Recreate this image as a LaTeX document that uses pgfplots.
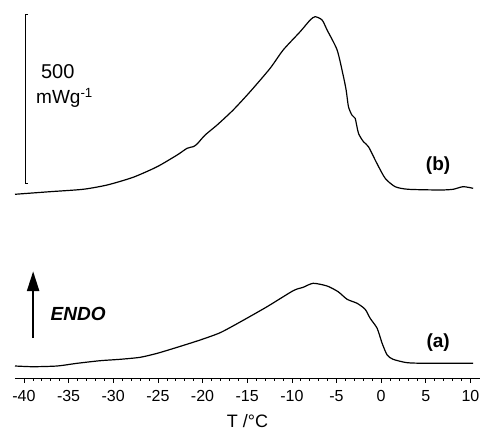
\documentclass[border=0pt]{standalone}
\usepackage{fontspec}
\setmainfont{Liberation Sans}
\usepackage{pgfplots}
\pgfplotsset{compat=1.18}
\usetikzlibrary{calc,arrows.meta}

% DSC heating curves, heat flow in mW/g (curves offset vertically)
\pgfplotstableread{
T      q
-41.00  35.5
-38.97  33.4
-36.28  35.5
-34.04  43.5
-31.46  51.2
-29.23  55.3
-26.99  61.2
-25.08  73.0
-22.84  90.8
-20.27 112.4
-18.03 134.0
-15.79 165.7
-12.77 211.0
-9.85  258.3
-8.73  268.4
-7.61  280.2
-6.05  272.2
-4.82  255.4
-3.81  232.9
-2.69  221.0
-1.79  203.3
-1.23  176.7
-0.45  147.1
0.11   102.7
0.67    68.1
1.34    55.3
2.91    45.3
5.15    43.5
10.30   43.5
}\curveA

\pgfplotstableread{
T      q
-41.00  543.6
-37.07  551.3
-33.37  558.4
-30.68  571.1
-27.77  593.9
-25.08  625.2
-22.84  659.9
-21.73  679.7
-21.05  684.4
-20.61  692.4
-19.71  719.0
-18.37  748.6
-16.57  793.0
-14.67  847.2
-12.43  916.4
-10.97  970.6
-9.07  1024.7
-7.95  1059.3
-7.39  1069.1
-6.61  1059.3
-6.05  1029.7
-4.93   970.6
-4.26   896.6
-3.92   852.2
-3.66   802.8
-3.28   778.2
-2.91   768.5
-2.54   724.1
-1.98   699.2
-1.42   684.4
-0.48   635.3
0.45    590.9
1.57    566.1
3.02    558.4
6.61    556.3
8.06    558.4
9.18    566.1
10.30   561.3
}\curveB

\begin{document}
\begin{tikzpicture}
\begin{axis}[
  scale only axis,
  width=465pt, height=378pt,
  xmin=-41, xmax=11.07,
  ymin=0, ymax=1118.5,
  axis x line*=bottom,
  axis y line=none,
  clip=false,
  xtick={-40,-35,...,10},
  minor x tick num=4,
  tick align=outside,
  major tick length=5pt,
  minor tick length=3pt,
  tick style={black, line width=0.6pt},
  axis line style={black, line width=0.7pt},
  /pgf/number format/assume math mode=true,
  xticklabel style={font=\fontsize{16}{18}\selectfont, yshift=-4pt},
  xlabel={T /°C},
  xlabel style={font=\fontsize{18}{20}\selectfont, yshift=-6pt},
]
\addplot[black, line width=1.2pt, smooth, tension=0.4] table[x=T, y=q] {\curveA};
\addplot[black, line width=1.2pt, smooth, tension=0.4] table[x=T, y=q] {\curveB};

% 500 mW/g scale bar
\draw[black, line width=0.8pt]
  (axis cs:-39.53,1077) -- (axis cs:-39.87,1077) -- (axis cs:-39.87,577) -- (axis cs:-39.53,577);
\node[anchor=west, font=\fontsize{20}{22}\selectfont, inner sep=0pt] at (axis cs:-38.1,908) {500};
\node[anchor=west, font=\fontsize{19}{21}\selectfont, inner sep=0pt] at (axis cs:-38.65,828) {mWg\textsuperscript{-1}};

% endotherm direction
\draw[black, line width=2.5pt, -{Triangle[length=20pt, width=12pt]}]
  (axis cs:-38.97,118) -- (axis cs:-38.97,316);
\node[font=\fontsize{19}{21}\selectfont\bfseries\itshape] at (axis cs:-33.93,190) {ENDO};

\node[font=\fontsize{19}{21}\selectfont\bfseries] at (axis cs:6.38,104) {(a)};
\node[font=\fontsize{19}{21}\selectfont\bfseries] at (axis cs:6.38,630) {(b)};
\end{axis}
\pgfresetboundingbox
\path[use as bounding box] ($(current axis.south west)+(-15pt,-59pt)$) rectangle ($(current axis.north east)+(3pt,0pt)$);
\end{tikzpicture}
\end{document}
